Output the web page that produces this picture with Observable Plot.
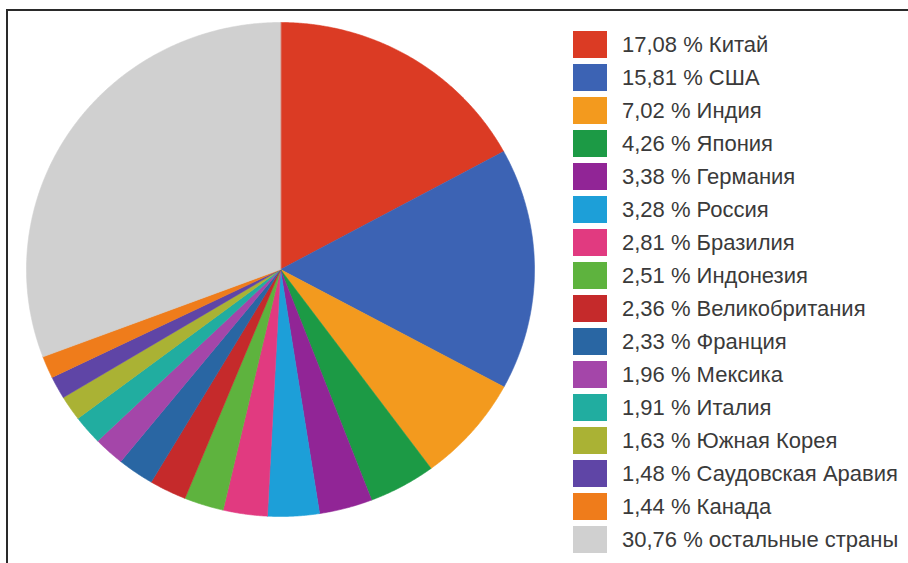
<!DOCTYPE html>
<html><head><meta charset="utf-8">
<script src="https://cdn.jsdelivr.net/npm/d3@7"></script>
<script src="https://cdn.jsdelivr.net/npm/@observablehq/plot@0.6"></script>
<style>
body{margin:0;background:#fff;}
#wrap{position:relative;width:908px;height:563px;overflow:hidden;font-family:"Liberation Sans",Arial,sans-serif;background:#fff;}
#chart{position:absolute;left:0;top:0;}
#chart svg{background:transparent;}
#frame{position:absolute;left:6px;top:9px;right:-4px;bottom:-4px;border-top:2px solid #2a2a2a;border-left:2px solid #2a2a2a;pointer-events:none;}
#legend{position:absolute;left:573px;top:0;width:335px;height:563px;}
.row{position:absolute;left:0;height:27px;display:flex;align-items:center;white-space:nowrap;}
.sw{width:34px;height:27px;margin-right:15px;flex:none;}
.lb{font-size:22px;color:#3a3a3a;line-height:27px;}
</style></head>
<body>
<div id="wrap"><div id="chart"></div><div id="legend"></div><div id="frame"></div></div>
<script>
const countries = ["Китай","США","Индия","Япония","Германия","Россия","Бразилия","Индонезия","Великобритания","Франция","Мексика","Италия","Южная Корея","Саудовская Аравия","Канада","остальные страны"];
const shares = [17.08,15.81,7.02,4.26,3.38,3.28,2.81,2.51,2.36,2.33,1.96,1.91,1.63,1.48,1.44,30.76];
const colors = ["#db3b24","#3c63b4","#f39a1e","#1c9a45","#912596","#1d9fd8","#e13a80","#5eb33e","#c52a2b","#2966a3","#a446a9","#21ada0","#aab234","#5f45a6","#ef7c1b","#d0d0d0"];

const total = d3.sum(shares);
const ends = d3.cumsum(shares);
const pts = [];
shares.forEach((v, i) => {
  const a0 = (ends[i] - v) / total * 2 * Math.PI;
  const a1 = ends[i] / total * 2 * Math.PI;
  pts.push({name: countries[i], color: colors[i], x: 0, y: 0});
  const n = Math.max(2, Math.ceil((a1 - a0) / (Math.PI / 720)));
  for (let k = 0; k <= n; k++) {
    const a = a0 + (a1 - a0) * k / n;
    pts.push({name: countries[i], color: colors[i], x: Math.sin(a), y: Math.cos(a)});
  }
});

const chart = Plot.plot({
  width: 908, height: 563,
  marginLeft: 26, marginRight: 374, marginTop: 22, marginBottom: 47,
  x: {domain: [-1, 1], axis: null},
  y: {domain: [-1, 1], axis: null},
  color: {type: "identity"},
  style: {background: "transparent"},
  marks: [
    Plot.line(pts, {x: "x", y: "y", z: "name", fill: "color", stroke: "color", strokeWidth: 0.6, curve: "linear-closed"})
  ]
});
document.getElementById("chart").appendChild(chart);

const legend = document.getElementById("legend");
countries.forEach((c, i) => {
  const row = document.createElement("div");
  row.className = "row";
  row.style.top = (44 + i * 33 - 13.5) + "px";
  const sw = document.createElement("div");
  sw.className = "sw";
  sw.style.background = colors[i];
  const lb = document.createElement("span");
  lb.className = "lb";
  lb.textContent = shares[i].toFixed(2).replace(".", ",") + " % " + c;
  row.appendChild(sw); row.appendChild(lb);
  legend.appendChild(row);
});
</script>
</body></html>
